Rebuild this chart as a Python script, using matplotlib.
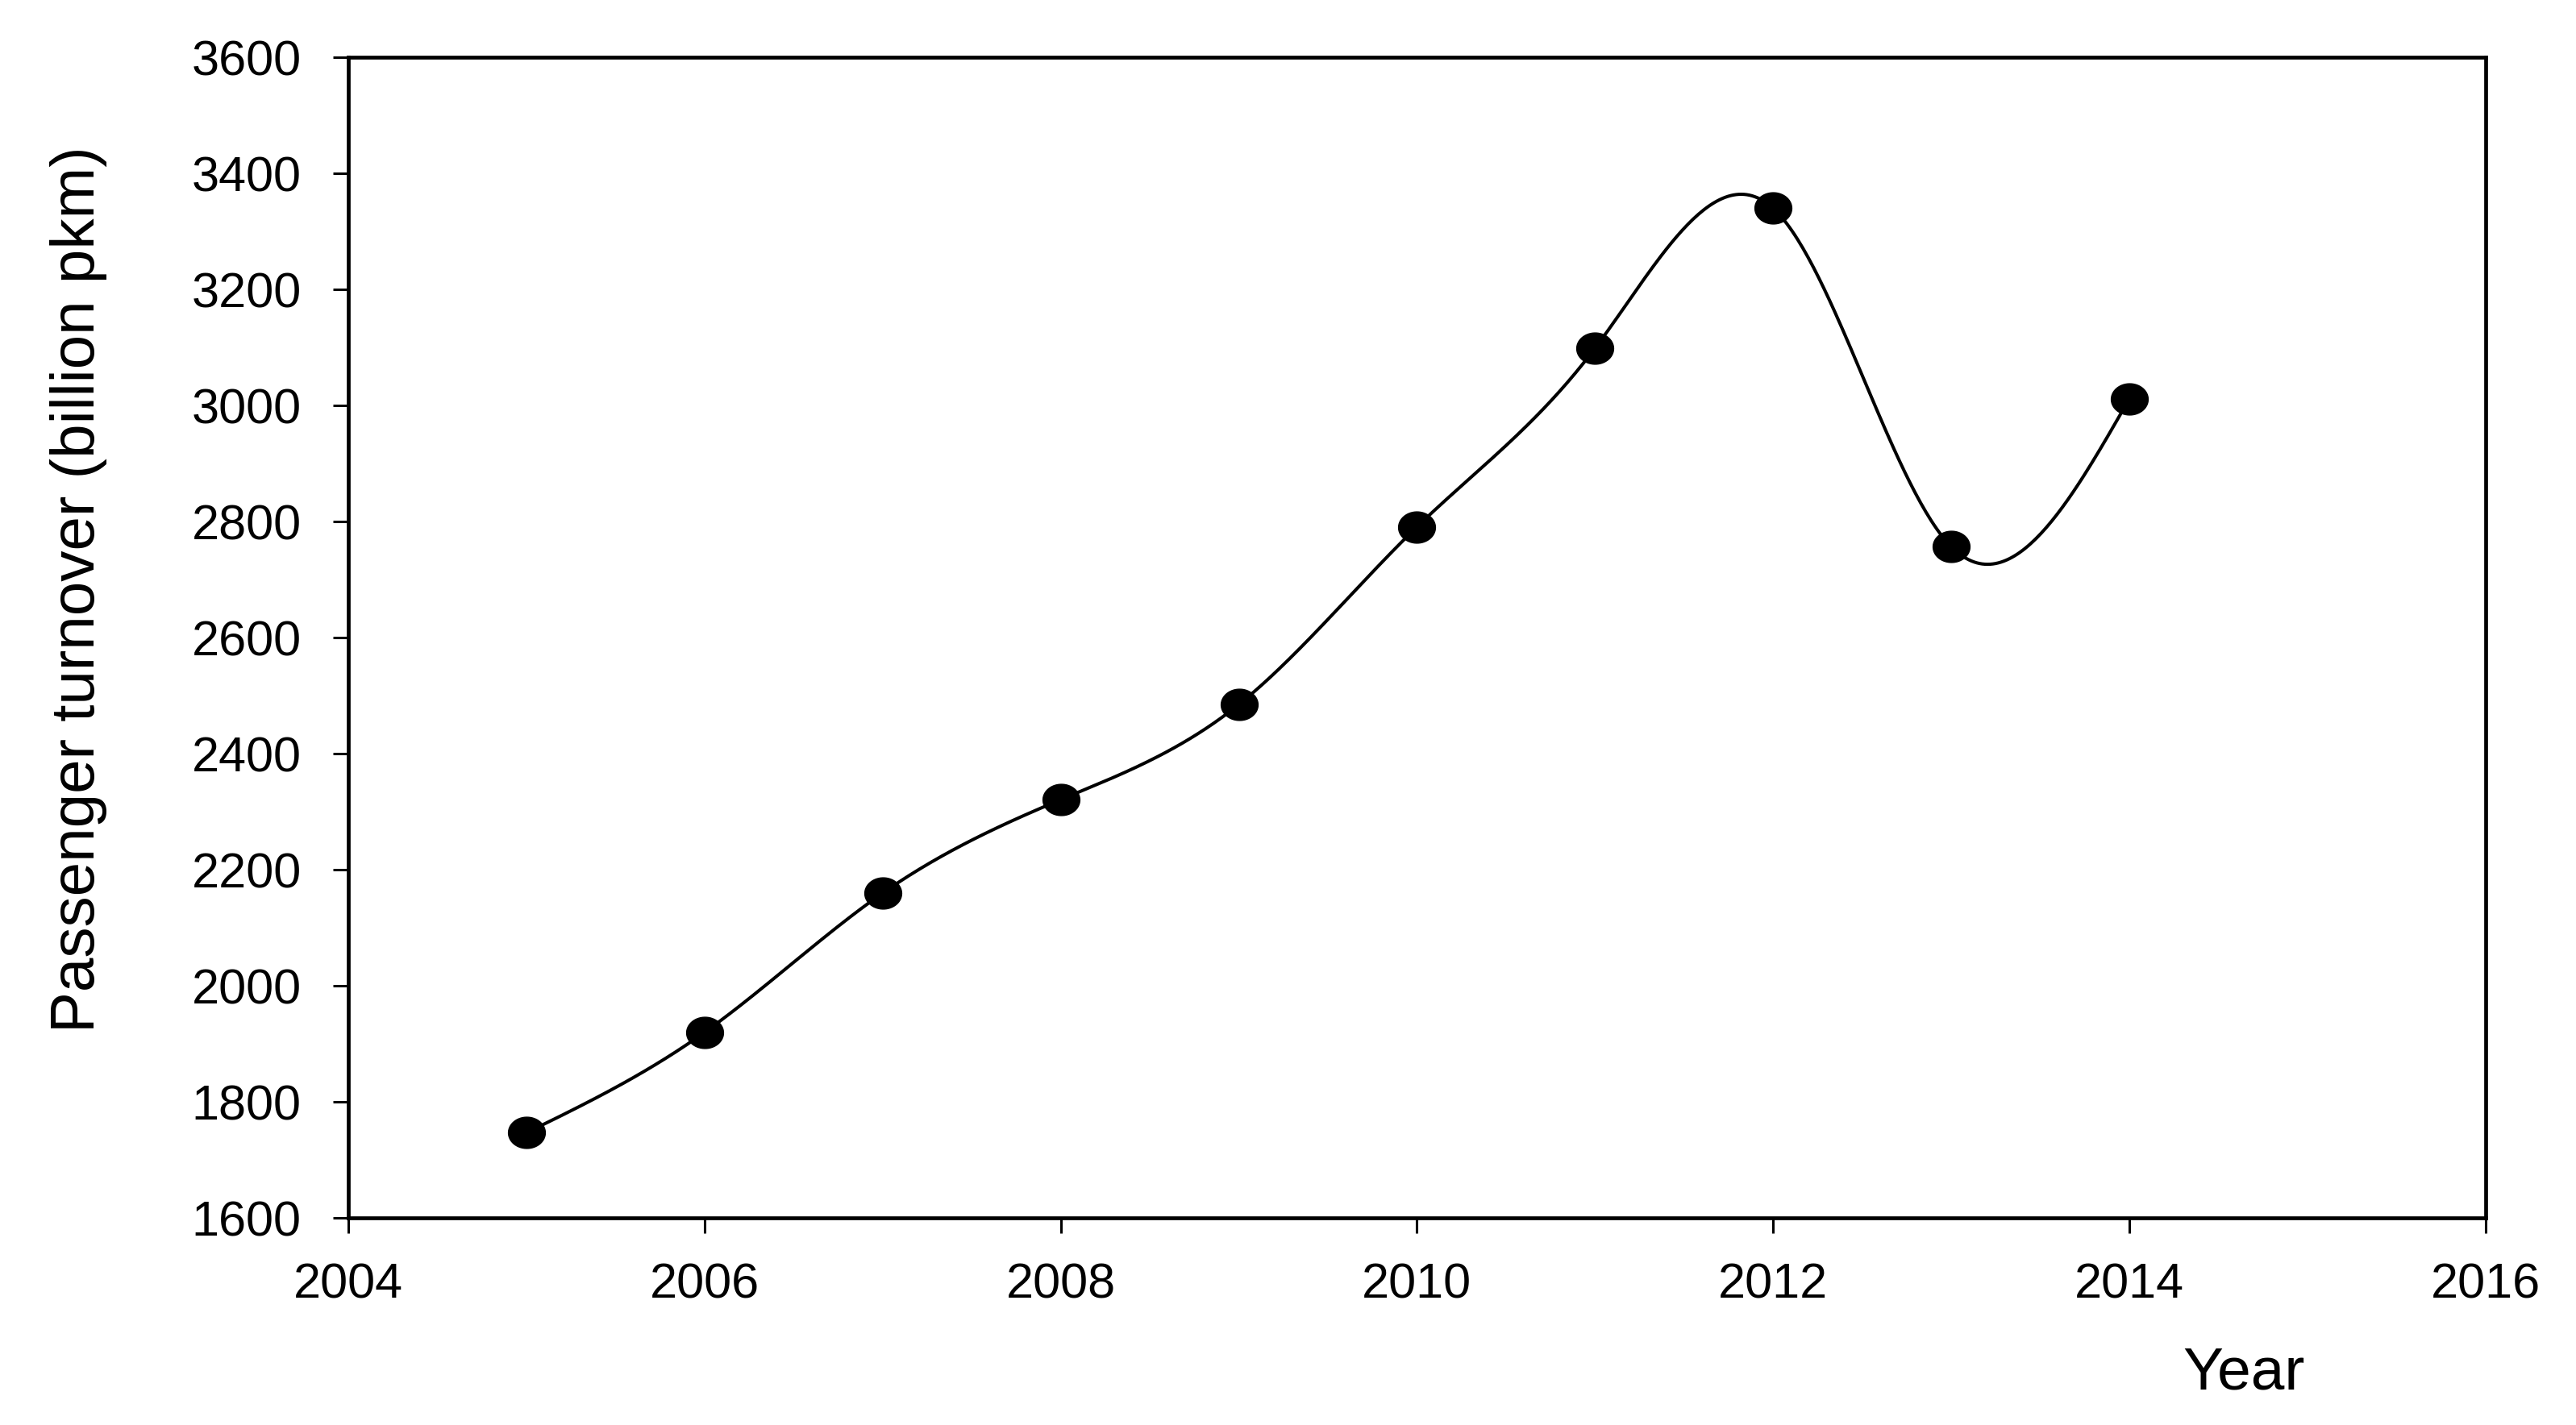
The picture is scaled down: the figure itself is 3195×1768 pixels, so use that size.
import matplotlib
matplotlib.use("Agg")
import matplotlib.pyplot as plt
import numpy as np
from matplotlib.path import Path
from matplotlib import font_manager

dpi = 100

#%%
# Data
years = [2005, 2006, 2007, 2008, 2009, 2010, 2011, 2012, 2013, 2014]
turnover = [1747, 1920, 2160, 2321, 2485, 2791, 3099, 3340, 2757, 3012]

x_ticks = [2004, 2006, 2008, 2010, 2012, 2014, 2016]
y_ticks = [1600, 1800, 2000, 2200, 2400, 2600, 2800, 3000, 3200, 3400, 3600]


#%%
# Natural cubic spline through the points
def natural_spline(x, y, n=600):
    x = np.asarray(x, dtype=float)
    y = np.asarray(y, dtype=float)
    k = len(x)
    h = np.diff(x)
    A = np.zeros((k, k))
    b = np.zeros(k)
    A[0, 0] = 1
    A[-1, -1] = 1
    for i in range(1, k - 1):
        A[i, i - 1] = h[i - 1]
        A[i, i] = 2 * (h[i - 1] + h[i])
        A[i, i + 1] = h[i]
        b[i] = 6 * ((y[i + 1] - y[i]) / h[i] - (y[i] - y[i - 1]) / h[i - 1])
    M = np.linalg.solve(A, b)
    xs = np.linspace(x[0], x[-1], n)
    idx = np.clip(np.searchsorted(x, xs) - 1, 0, k - 2)
    x0, x1 = x[idx], x[idx + 1]
    hh = x1 - x0
    t0 = x1 - xs
    t1 = xs - x0
    ys = (M[idx] * t0 ** 3 / (6 * hh) + M[idx + 1] * t1 ** 3 / (6 * hh)
          + (y[idx] / hh - M[idx] * hh / 6) * t0
          + (y[idx + 1] / hh - M[idx + 1] * hh / 6) * t1)
    return xs, ys


xs, ys = natural_spline(years, turnover)

# slightly flattened dot marker
theta = np.linspace(0, 2 * np.pi, 60)
ellipse = Path(np.column_stack([1.18 * np.cos(theta), np.sin(theta)]), closed=True)

names = {f.name for f in font_manager.fontManager.ttflist}
if "Liberation Sans Narrow" in names:
    ylab_font, ylab_size = "Liberation Sans Narrow", 64
else:
    ylab_font, ylab_size = "Liberation Sans", 55

plt.rcParams['font.family'] = ['Liberation Sans', 'DejaVu Sans']

#%%
fig = plt.figure(figsize=(31.95, 17.68), dpi=dpi)
ax = fig.add_axes([0.1352, 0.1452, 0.8297, 0.8145])

ax.plot(xs, ys, color="black", lw=2.9, zorder=2)
ax.plot(years, turnover, linestyle="none", marker=ellipse, markersize=33,
        color="black", zorder=3)

ax.set_xlim(2004, 2016)
ax.set_ylim(1600, 3600)
ax.set_xticks(x_ticks)
ax.set_yticks(y_ticks)
ax.tick_params(direction="out", length=14, width=2.2, labelsize=44)
ax.tick_params(axis="x", pad=26)
ax.tick_params(axis="y", pad=28)
for s in ax.spines.values():
    s.set_linewidth(3.4)

ax.set_ylabel("Passenger turnover (billion pkm)", family=[ylab_font, 'Liberation Sans'],
              fontsize=ylab_size, va="center")
ax.yaxis.set_label_coords(-0.126, 0.542)
fig.text(0.871, 0.036, "Year", fontsize=54, ha="center", va="center")

plt.savefig("out.png", dpi=dpi)
